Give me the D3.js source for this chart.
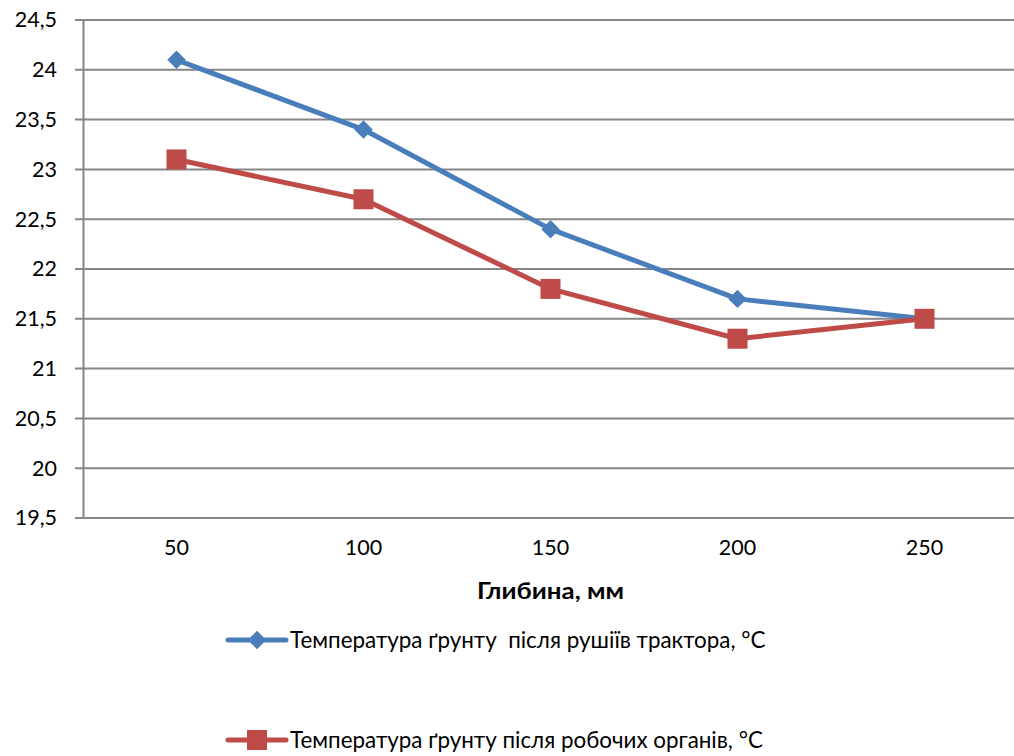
<!DOCTYPE html>
<html>
<head>
<meta charset="utf-8">
<script src="https://cdn.jsdelivr.net/npm/d3@7"></script>
<style>
  body { margin: 0; background: #fff; }
  text { font-family: Lato, "Open Sans", sans-serif; fill: #000; }
</style>
</head>
<body>
<div class="chart"></div>
<script>
const depths = ['50', '100', '150', '200', '250'];
const tractorTemp = [24.1, 23.4, 22.4, 21.7, 21.5];
const organsTemp  = [23.1, 22.7, 21.8, 21.3, 21.5];
const yTicks = [19.5, 20, 20.5, 21, 21.5, 22, 22.5, 23, 23.5, 24, 24.5];
const seriesNames = [
    'Температура ґрунту  після рушіїв трактора, °С',
    'Температура ґрунту після робочих органів, °С'
];
const xTitle = 'Глибина, мм';

const svgSize = { width: 1014, height: 756 };
const margin = { top: 20, right: -4, bottom: 238, left: 83 };
const width  = svgSize.width  - margin.left - margin.right;
const height = svgSize.height - margin.top  - margin.bottom;

const blue = '#4a7ebb';
const red  = '#be4b48';

const svg = d3.select('.chart')
    .append('svg')
    .attr('width', svgSize.width)
    .attr('height', svgSize.height)
;

const graph = svg.append('g')
    .attr('transform', `translate(${margin.left}, ${margin.top})`)
;

const xScale = d3.scaleBand()
    .domain(depths)
    .range([ 0, width ])
;
const yScale = d3.scaleLinear()
    .domain([ 19.5, 24.5 ])
    .range([ height, 0 ])
;

// grid
graph.append('g')
    .selectAll('line')
    .data(yTicks)
    .enter()
    .append('line')
    .attr('x1', -8)
    .attr('x2', width)
    .attr('y1', d => yScale(d))
    .attr('y2', d => yScale(d))
    .attr('stroke', '#868686')
    .attr('stroke-width', 2)
;

// y axis
const yAxis = d3.axisLeft(yScale)
    .tickValues(yTicks)
    .tickSize(0)
    .tickPadding(26)
    .tickFormat(d => String(d).replace('.', ','));
const yAxisGroup = graph.append('g').call(yAxis);
yAxisGroup.select('.domain').attr('stroke', '#868686').attr('stroke-width', 2);
yAxisGroup.selectAll('text')
    .style('font-size', '21.5px')
    .attr('fill', '#000');

// x axis
const xAxis = d3.axisBottom(xScale).tickSize(0).tickPadding(22);
const xAxisGroup = graph.append('g')
    .attr('transform', `translate(0, ${height})`)
    .call(xAxis);
xAxisGroup.select('.domain').remove();
xAxisGroup.selectAll('text')
    .style('font-size', '21.5px')
    .attr('fill', '#000');

graph.append('text')
    .attr('x', xScale('150') + xScale.bandwidth() / 2)
    .attr('y', height + 81)
    .attr('text-anchor', 'middle')
    .attr('textLength', 147)
    .attr('lengthAdjust', 'spacingAndGlyphs')
    .style('font-size', '23px')
    .style('font-weight', 'bold')
    .text(xTitle);

// lines
const cx = (d, i) => xScale(depths[i]) + xScale.bandwidth() / 2;
const line = d3.line()
    .x(cx)
    .y(d => yScale(d));

const series = [
    { values: tractorTemp, color: blue, symbol: d3.symbolSquare, size: 170, rotate: 45 },
    { values: organsTemp,  color: red,  symbol: d3.symbolSquare, size: 400, rotate: 0 }
];

series.forEach(s => {
    graph.append('path')
        .datum(s.values)
        .attr('d', line)
        .attr('fill', 'none')
        .attr('stroke', s.color)
        .attr('stroke-width', 5)
        .attr('stroke-linejoin', 'round');

    graph.selectAll(null)
        .data(s.values)
        .enter()
        .append('path')
        .attr('d', d3.symbol().type(s.symbol).size(s.size))
        .attr('transform', (d, i) => `translate(${cx(d, i)}, ${yScale(d)}) rotate(${s.rotate})`)
        .attr('fill', s.color);
});

// legend
const legend = svg.append('g');
const legendY = [640, 740];
series.forEach((s, i) => {
    const g = legend.append('g').attr('transform', `translate(228, ${legendY[i]})`);
    g.append('line')
        .attr('x1', 0).attr('x2', 58)
        .attr('stroke', s.color)
        .attr('stroke-width', 5)
        .attr('stroke-linecap', 'round');
    g.append('path')
        .attr('d', d3.symbol().type(s.symbol).size(s.size))
        .attr('transform', `translate(29, 0) rotate(${s.rotate})`)
        .attr('fill', s.color);
    g.append('text')
        .attr('x', 62)
        .attr('y', 8)
        .style('font-size', '22.4px')
        .style('white-space', 'pre')
        .text(seriesNames[i]);
});
</script>
</body>
</html>
